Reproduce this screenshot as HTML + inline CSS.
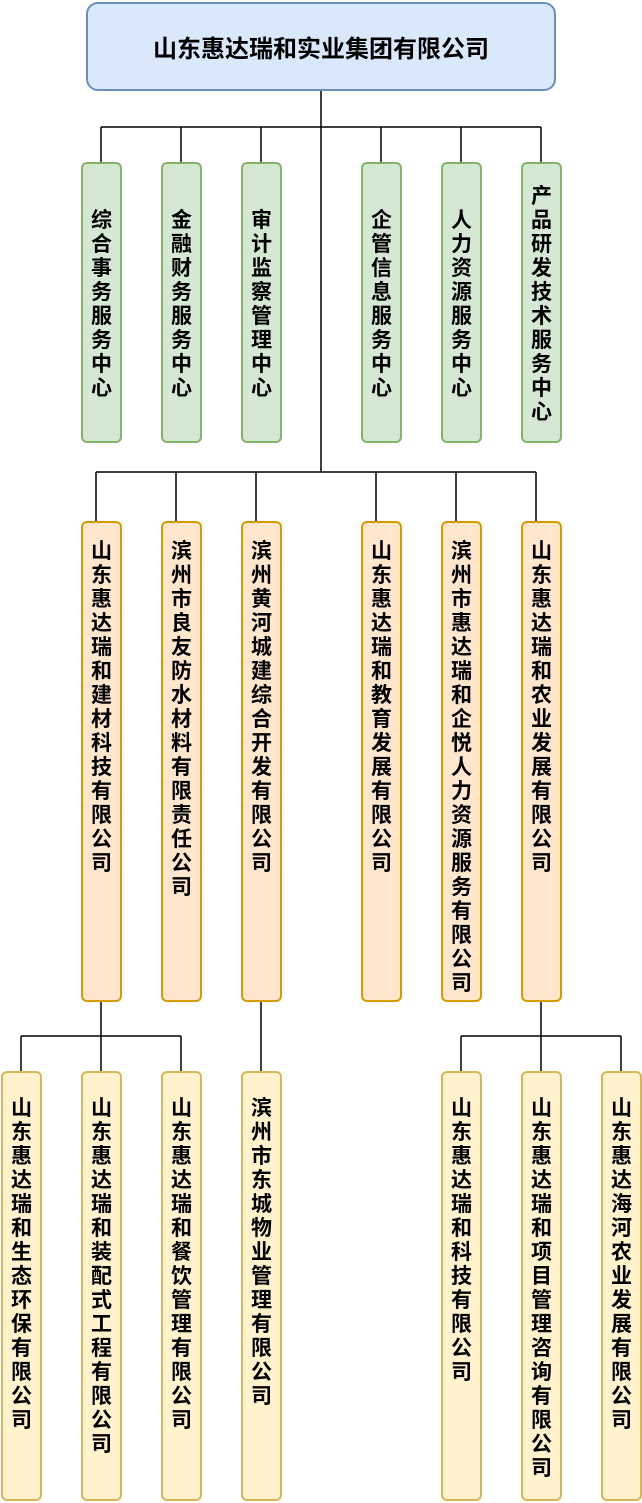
<!DOCTYPE html>
<html><head><meta charset="utf-8"><style>
html,body{margin:0;padding:0;background:#fff;}
body{width:642px;height:1503px;position:relative;overflow:hidden;font-family:"Noto Sans CJK SC","WenQuanYi Zen Hei",sans-serif;}
.b{position:absolute;box-sizing:border-box;border-radius:6px;border:2px solid;font-weight:bold;font-size:21px;line-height:24px;text-align:center;color:#000;}
.g{background:#d5e8d4;border-color:#82b366;width:41px;top:162px;height:281px;display:flex;align-items:center;justify-content:center;}
.o{background:#ffe6cc;border-color:#d79b00;width:41px;top:521px;height:481px;padding-top:15px;}
.y{background:#fff2cc;border-color:#d6b656;width:41px;top:1071px;height:430px;padding-top:22px;}
.t{position:absolute;left:86px;top:2px;width:470px;height:89px;box-sizing:border-box;border:2px solid #6c8ebf;background:#dae8fc;border-radius:12px;font-weight:bold;font-size:24px;display:flex;align-items:center;justify-content:center;}
svg{position:absolute;left:0;top:0;}
</style></head><body>
<svg width="642" height="1503"><g stroke="#000" stroke-width="1.5" fill="none">
<path d="M321 91V472"/>
<path d="M101 127H541M101 127V162M181 127V162M261 127V162M381 127V162M461 127V162M541 127V162"/>
<path d="M96 472H536M96 472V521M176 472V521M256 472V521M376 472V521M456 472V521M536 472V521"/>
<path d="M101 1002V1036M21 1036H181M21 1036V1071M101 1036V1071M181 1036V1071"/>
<path d="M261 1002V1071"/>
<path d="M541 1002V1036M461 1036H621M461 1036V1071M541 1036V1071M621 1036V1071"/>
</g></svg>
<div class="t">山东惠达瑞和实业集团有限公司</div>

<div class="b g" style="left:81px"><div>综<br>合<br>事<br>务<br>服<br>务<br>中<br>心</div></div>
<div class="b g" style="left:161px"><div>金<br>融<br>财<br>务<br>服<br>务<br>中<br>心</div></div>
<div class="b g" style="left:241px"><div>审<br>计<br>监<br>察<br>管<br>理<br>中<br>心</div></div>
<div class="b g" style="left:361px"><div>企<br>管<br>信<br>息<br>服<br>务<br>中<br>心</div></div>
<div class="b g" style="left:441px"><div>人<br>力<br>资<br>源<br>服<br>务<br>中<br>心</div></div>
<div class="b g" style="left:521px"><div>产<br>品<br>研<br>发<br>技<br>术<br>服<br>务<br>中<br>心</div></div>

<div class="b o" style="left:81px">山<br>东<br>惠<br>达<br>瑞<br>和<br>建<br>材<br>科<br>技<br>有<br>限<br>公<br>司</div>
<div class="b o" style="left:161px">滨<br>州<br>市<br>良<br>友<br>防<br>水<br>材<br>料<br>有<br>限<br>责<br>任<br>公<br>司</div>
<div class="b o" style="left:241px">滨<br>州<br>黄<br>河<br>城<br>建<br>综<br>合<br>开<br>发<br>有<br>限<br>公<br>司</div>
<div class="b o" style="left:361px">山<br>东<br>惠<br>达<br>瑞<br>和<br>教<br>育<br>发<br>展<br>有<br>限<br>公<br>司</div>
<div class="b o" style="left:441px">滨<br>州<br>市<br>惠<br>达<br>瑞<br>和<br>企<br>悦<br>人<br>力<br>资<br>源<br>服<br>务<br>有<br>限<br>公<br>司</div>
<div class="b o" style="left:521px">山<br>东<br>惠<br>达<br>瑞<br>和<br>农<br>业<br>发<br>展<br>有<br>限<br>公<br>司</div>

<div class="b y" style="left:1px">山<br>东<br>惠<br>达<br>瑞<br>和<br>生<br>态<br>环<br>保<br>有<br>限<br>公<br>司</div>
<div class="b y" style="left:81px">山<br>东<br>惠<br>达<br>瑞<br>和<br>装<br>配<br>式<br>工<br>程<br>有<br>限<br>公<br>司</div>
<div class="b y" style="left:161px">山<br>东<br>惠<br>达<br>瑞<br>和<br>餐<br>饮<br>管<br>理<br>有<br>限<br>公<br>司</div>
<div class="b y" style="left:241px">滨<br>州<br>市<br>东<br>城<br>物<br>业<br>管<br>理<br>有<br>限<br>公<br>司</div>
<div class="b y" style="left:441px">山<br>东<br>惠<br>达<br>瑞<br>和<br>科<br>技<br>有<br>限<br>公<br>司</div>
<div class="b y" style="left:521px">山<br>东<br>惠<br>达<br>瑞<br>和<br>项<br>目<br>管<br>理<br>咨<br>询<br>有<br>限<br>公<br>司</div>
<div class="b y" style="left:601px">山<br>东<br>惠<br>达<br>海<br>河<br>农<br>业<br>发<br>展<br>有<br>限<br>公<br>司</div>
</body></html>
